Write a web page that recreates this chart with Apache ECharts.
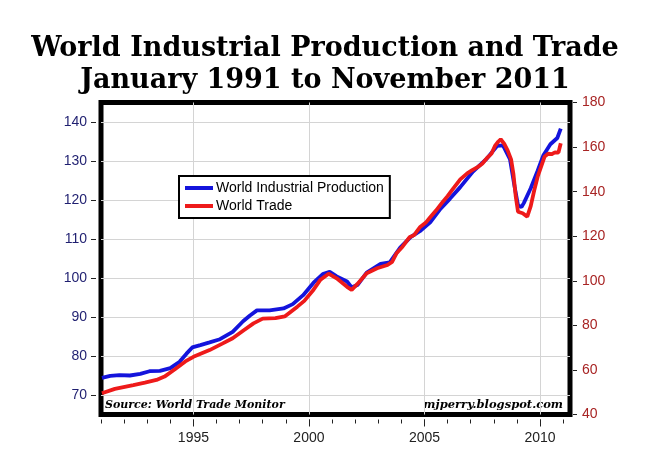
<!DOCTYPE html>
<html><head><meta charset="utf-8">
<script src="https://cdn.jsdelivr.net/npm/echarts@6/dist/echarts.min.js"></script>
<style>html,body{margin:0;padding:0;background:#fff}#c{width:650px;height:474px}</style>
</head><body><div id="c"></div>
<script>
var titleLines = ['World Industrial Production and Trade', 'January 1991 to November 2011'];
var sourceText = 'Source: World Trade Monitor';
var creditText = 'mjperry.blogspot.com';
var seriesNames = ['World Industrial Production', 'World Trade'];

var ipYears = [1991.04,1991.4,1991.8,1992.25,1992.7,1993.1,1993.55,1994.0,1994.4,1994.7,1994.95,1995.3,1995.7,1996.15,1996.7,1997.15,1997.45,1997.75,1998.3,1998.9,1999.3,1999.75,2000.2,2000.6,2000.9,2001.2,2001.65,2001.85,2002.1,2002.5,2003.1,2003.5,2003.95,2004.4,2004.8,2005.25,2005.7,2006.1,2006.55,2007.1,2007.7,2008.15,2008.4,2008.7,2008.9,2009.05,2009.2,2009.3,2009.6,2009.9,2010.15,2010.45,2010.75,2010.9];
var ipValues = [74.4,74.9,75.1,75.0,75.4,76.1,76.2,76.9,78.5,80.6,82.2,82.8,83.5,84.3,86.2,88.9,90.4,91.7,91.7,92.2,93.3,95.6,98.8,101.0,101.6,100.4,99.1,97.6,98.2,101.4,103.6,104.0,107.8,110.5,112.0,114.3,117.8,120.3,123.3,127.3,130.6,133.9,134.0,130.5,123.5,118.6,118.2,119.2,123.0,127.5,131.5,134.3,135.9,138.3];

var tradeYears = [1991.04,1991.6,1992.4,1992.9,1993.4,1993.75,1994.2,1994.65,1995.0,1995.7,1996.25,1996.7,1997.15,1997.6,1998.0,1998.55,1998.95,1999.5,1999.8,2000.2,2000.5,2000.85,2001.2,2001.65,2001.85,2002.1,2002.5,2002.95,2003.4,2003.6,2003.8,2004.05,2004.35,2004.55,2004.8,2005.05,2005.25,2005.5,2005.8,2006.0,2006.25,2006.55,2006.85,2007.05,2007.3,2007.5,2007.7,2007.9,2008.05,2008.2,2008.3,2008.45,2008.6,2008.75,2008.85,2008.95,2009.05,2009.25,2009.45,2009.6,2009.75,2009.9,2010.2,2010.35,2010.5,2010.65,2010.8,2010.9];
var tradeValues = [49.5,51.5,53.2,54.3,55.5,57.0,60.3,63.8,65.9,68.9,71.8,74.2,77.6,80.9,83.0,83.2,84.0,88.4,91.0,96.0,100.5,103.2,101.1,97.3,95.9,98.6,103.4,105.6,107.1,108.5,112.5,115.3,119.5,120.5,124.0,126.0,128.5,131.5,135.5,138.0,141.5,145.5,148.2,149.5,151.0,152.5,155.0,157.0,160.5,162.5,163.5,161.5,158.5,154.5,148.0,138.0,131.0,130.3,128.8,133.5,140.5,146.7,155.7,157.0,156.8,157.6,157.5,161.7];

var leftTicks = [70,80,90,100,110,120,130,140];
var rightTicks = [40,60,80,100,120,140,160,180];
var yearTicks = [1991,1992,1993,1994,1995,1996,1997,1998,1999,2000,2001,2002,2003,2004,2005,2006,2007,2008,2009,2010,2011];
var yearLabels = [1995,2000,2005,2010];

function pairs(xs, ys){ return xs.map(function(x,i){ return [x, ys[i]]; }); }

var chart = echarts.init(document.getElementById('c'), null, {renderer:'canvas'});
var labelFont = 'Liberation Sans, Arial, sans-serif';
chart.setOption({
  animation: false,
  backgroundColor: '#fff',
  title: {
    text: titleLines.join('\n'),
    left: 'center', top: 28,
    textStyle: {fontFamily: 'DejaVu Serif', fontWeight: 'bold', fontSize: 27, lineHeight: 32, color: '#000'}
  },
  grid: {left: 101, right: 80, top: 102.5, bottom: 59.5, show: true, borderColor: '#000', borderWidth: 5, backgroundColor: '#fff', containLabel: false},
  legend: {
    data: seriesNames, orient: 'vertical', left: 179, top: 176,
    icon: 'rect', itemWidth: 28, itemHeight: 4, itemGap: 4,
    padding: [5, 6, 5, 6], borderColor: '#000', borderWidth: 2, backgroundColor: '#fff',
    textStyle: {fontFamily: labelFont, fontSize: 14, color: '#000', padding: [0,0,0,-2]}
  },
  xAxis: [{
    type: 'value', min: 1991, max: 2011.3, position: 'bottom', offset: 5,
    axisLine: {show: false},
    axisTick: {show: true, customValues: yearTicks, length: 4, lineStyle: {color: '#222', width: 1}},
    axisLabel: {customValues: yearLabels, margin: 12, fontFamily: labelFont, fontSize: 14, color: '#222', formatter: function(v){ return String(v); }},
    splitLine: {show: false}
  }, {
    type: 'value', min: 1991, max: 2011.3, position: 'bottom', offset: 5,
    axisLine: {show: false},
    axisTick: {show: true, customValues: yearLabels, length: 7, lineStyle: {color: '#222', width: 1}},
    axisLabel: {show: false},
    splitLine: {show: true, lineStyle: {color: '#d4d4d4', width: 1}}
  }],
  yAxis: [{
    type: 'value', min: 65, max: 145, interval: 10, position: 'left', offset: 5,
    axisLine: {show: false},
    axisTick: {show: true, customValues: leftTicks, length: 5, lineStyle: {color: '#222'}},
    axisLabel: {customValues: leftTicks, margin: 9, fontFamily: labelFont, fontSize: 14, color: '#1f1f70'},
    splitLine: {show: true, lineStyle: {color: '#d4d4d4', width: 1}}
  }, {
    type: 'value', min: 40, max: 180, interval: 20, position: 'right', offset: 3,
    axisLine: {show: false},
    axisTick: {show: true, customValues: rightTicks, length: 4, lineStyle: {color: '#222'}},
    axisLabel: {customValues: rightTicks, margin: 9, fontFamily: labelFont, fontSize: 14, color: '#a82424'},
    splitLine: {show: false}
  }],
  series: [{
    name: seriesNames[0], type: 'line', xAxisIndex: 0, yAxisIndex: 0,
    data: pairs(ipYears, ipValues), showSymbol: false, symbol: 'none',
    lineStyle: {color: '#1414dc', width: 3.8}, itemStyle: {color: '#1414dc'}
  }, {
    name: seriesNames[1], type: 'line', xAxisIndex: 0, yAxisIndex: 1,
    data: pairs(tradeYears, tradeValues), showSymbol: false, symbol: 'none',
    lineStyle: {color: '#ee1a1a', width: 3.8}, itemStyle: {color: '#ee1a1a'}
  }],
  graphic: [{
    type: 'text', left: 105, top: 400,
    style: {text: sourceText, font: 'italic bold 11px "DejaVu Serif"', fill: '#000'}
  }, {
    type: 'text', right: 87, top: 399,
    style: {text: creditText, font: 'italic bold 11.5px "DejaVu Serif"', fill: '#000'}
  }]
});
</script></body></html>
